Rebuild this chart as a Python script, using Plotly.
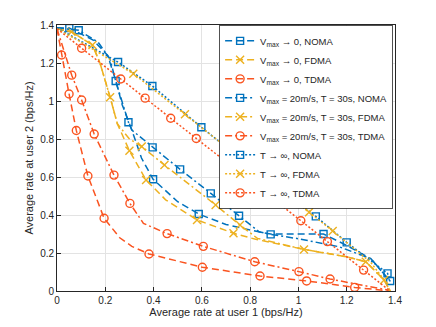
import plotly.graph_objects as go

BLUE = "#0072BD"
YELLOW = "#EDB120"
RED = "#FA5420"

# Vmax -> 0 (dashed), Vmax = 20 m/s, T = 30 s (dash-dot), T -> inf (dotted)
noma0_x = [0, 0.051, 0.15, 0.21, 0.244, 0.27, 0.31, 0.35, 0.398, 0.5, 0.587, 0.7, 0.84, 0.885, 1.104, 1.2, 1.3, 1.38]
noma0_y = [1.385, 1.384, 1.32, 1.24, 1.105, 0.98, 0.847, 0.70, 0.588, 0.47, 0.405, 0.35, 0.31, 0.30, 0.30, 0.24, 0.17, 0.05]
noma0_m = [1, 8, 10, 14]

nomaV_x = [0, 0.09, 0.17, 0.22, 0.243, 0.296, 0.31, 0.396, 0.51, 0.637, 0.754, 0.837, 0.885, 1.0, 1.168, 1.3, 1.38]
nomaV_y = [1.385, 1.372, 1.31, 1.22, 1.105, 0.888, 0.847, 0.756, 0.64, 0.514, 0.396, 0.312, 0.298, 0.275, 0.233, 0.17, 0.053]
nomaV_m = [1, 4, 5, 7, 8, 9, 10, 12, 16]

nomaI_x = [0, 0.1, 0.253, 0.395, 0.598, 0.855, 1.072, 1.2, 1.369, 1.38]
nomaI_y = [1.385, 1.315, 1.205, 1.079, 0.862, 0.60, 0.393, 0.256, 0.093, 0.05]
nomaI_m = [2, 3, 4, 5, 6, 7, 8]

fdma0_x = [0, 0.06, 0.147, 0.178, 0.22, 0.25, 0.30, 0.369, 0.45, 0.58, 0.731, 0.823, 1.023, 1.2, 1.279, 1.355, 1.38]
fdma0_y = [1.38, 1.365, 1.295, 1.2, 1.02, 0.88, 0.738, 0.584, 0.48, 0.374, 0.304, 0.272, 0.219, 0.18, 0.154, 0.058, 0.0]
fdma0_m = [1, 4, 6, 7, 9, 10]

fdmaV_x = [0, 0.06, 0.147, 0.178, 0.22, 0.25, 0.30, 0.351, 0.445, 0.657, 0.758, 0.83, 1.023, 1.2, 1.279, 1.355, 1.38]
fdmaV_y = [1.38, 1.365, 1.295, 1.2, 1.02, 0.88, 0.80, 0.76, 0.663, 0.453, 0.347, 0.277, 0.219, 0.18, 0.154, 0.058, 0.0]
fdmaV_m = [2, 7, 8, 9, 10, 12, 14]

fdmaI_x = [0, 0.1, 0.316, 0.53, 0.74, 0.927, 1.044, 1.142, 1.3, 1.355, 1.38]
fdmaI_y = [1.38, 1.31, 1.144, 0.93, 0.72, 0.535, 0.414, 0.316, 0.15, 0.058, 0.0]
fdmaI_m = [2, 3, 5, 6, 7, 9]

tdma0_x = [0, 0.019, 0.05, 0.08, 0.128, 0.195, 0.26, 0.31, 0.381, 0.602, 0.841, 1.034, 1.233, 1.38]
tdma0_y = [1.38, 1.242, 1.037, 0.845, 0.605, 0.383, 0.28, 0.235, 0.195, 0.125, 0.079, 0.053, 0.019, 0.0]
tdma0_m = [1, 2, 3, 4, 5, 8, 9, 10, 11, 12]

tdmaV_x = [0, 0.061, 0.102, 0.154, 0.236, 0.302, 0.358, 0.456, 0.606, 0.819, 1.002, 1.131, 1.37]
tdmaV_y = [1.38, 1.136, 1.005, 0.826, 0.61, 0.461, 0.356, 0.302, 0.235, 0.154, 0.102, 0.063, 0.005]
tdmaV_m = [1, 2, 3, 4, 5, 7, 8, 9, 10, 11]

tdmaI_x = [0, 0.102, 0.264, 0.365, 0.471, 0.577, 0.805, 0.91, 1.01, 1.12, 1.27, 1.38]
tdmaI_y = [1.38, 1.278, 1.116, 1.015, 0.909, 0.803, 0.575, 0.47, 0.37, 0.26, 0.11, 0.0]
tdmaI_m = [1, 2, 3, 4, 5, 6, 7, 8, 9, 10]

tick_vals = [0, 0.2, 0.4, 0.6, 0.8, 1, 1.2, 1.4]

DASH = "7px,4px"
DASHDOT = "7px,3px,2px,3px"
DOT = "2px,2px"

series = [
    (noma0_x, noma0_y, noma0_m, BLUE, DASH, "square-open", 7, "V<sub>max</sub> \u2192 0, NOMA"),
    (fdma0_x, fdma0_y, fdma0_m, YELLOW, DASH, "x-thin", 8, "V<sub>max</sub> \u2192 0, FDMA"),
    (tdma0_x, tdma0_y, tdma0_m, RED, DASH, "circle-open", 8, "V<sub>max</sub> \u2192 0, TDMA"),
    (nomaV_x, nomaV_y, nomaV_m, BLUE, DASHDOT, "square-open", 7, "V<sub>max</sub> = 20m/s, T = 30s, NOMA"),
    (fdmaV_x, fdmaV_y, fdmaV_m, YELLOW, DASHDOT, "x-thin", 8, "V<sub>max</sub> = 20m/s, T = 30s, FDMA"),
    (tdmaV_x, tdmaV_y, tdmaV_m, RED, DASHDOT, "circle-open", 8, "V<sub>max</sub> = 20m/s, T = 30s, TDMA"),
    (nomaI_x, nomaI_y, nomaI_m, BLUE, DOT, "square-open", 7, "T \u2192 \u221e, NOMA"),
    (fdmaI_x, fdmaI_y, fdmaI_m, YELLOW, DOT, "x-thin", 8, "T \u2192 \u221e, FDMA"),
    (tdmaI_x, tdmaI_y, tdmaI_m, RED, DOT, "circle-open", 8, "T \u2192 \u221e, TDMA"),
]

fig = go.Figure()
for xs, ys, mk, col, dash, sym, size, name in series:
    marker = dict(symbol=sym, size=size, color=col, line=dict(color=col, width=1.4))
    # the curve itself
    fig.add_trace(go.Scatter(x=xs, y=ys, mode="lines", showlegend=False,
                             line=dict(color=col, width=1.5, dash=dash)))
    # markers sit on a subset of the curve points
    fig.add_trace(go.Scatter(x=[xs[i] for i in mk], y=[ys[i] for i in mk],
                             mode="markers", showlegend=False, marker=marker))
    # legend entry only
    fig.add_trace(go.Scatter(x=[None], y=[None], mode="lines+markers", name=name,
                             line=dict(color=col, width=1.5, dash=dash), marker=marker))

axis = dict(range=[0, 1.4], tickvals=tick_vals, showline=True, mirror=True,
            linecolor="#262626", linewidth=0.8, ticks="inside", ticklen=4,
            tickcolor="#262626", showgrid=True, gridcolor="#e3e3e3", gridwidth=1,
            zeroline=False, automargin=False, tickfont=dict(size=10, color="#262626"))

# the page body adds an 8px offset, so the margins are shifted to compensate
fig.update_layout(
    width=436, height=327,
    margin=dict(l=49, r=49, t=17, b=44),
    plot_bgcolor="white", paper_bgcolor="white",
    font=dict(family="Liberation Sans, Arial, sans-serif", size=10, color="#262626"),
    xaxis=dict(axis, title=dict(text="Average rate at user 1 (bps/Hz)", standoff=3,
                                font=dict(size=11))),
    yaxis=dict(axis, title=dict(text="Average rate at user 2 (bps/Hz)", standoff=4,
                                font=dict(size=11))),
    legend=dict(x=0.995, y=0.998, xanchor="right", yanchor="top",
                bgcolor="white", bordercolor="#262626", borderwidth=0.8,
                font=dict(size=9.5), itemwidth=30, tracegroupgap=0),
)

fig.write_html("out.html")
